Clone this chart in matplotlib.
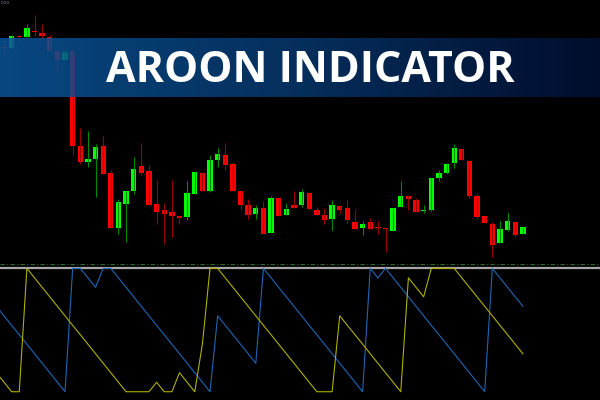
import numpy as np
import matplotlib
matplotlib.use("Agg")
import matplotlib.pyplot as plt
from matplotlib.colors import LinearSegmentedColormap

# candle data (open, high, low, close), one entry per bar
opens = [253, 252, 264.5, 263.3, 269, 267, 262.7, 249, 240, 249,
         154, 138.3, 141.3, 154, 127, 71.7, 96.3, 109, 134, 128.7,
         96, 90, 88, 84.3, 83.3, 106.3, 127.3, 108.7, 140, 145.3,
         136, 109, 95, 86, 92.3, 67.3, 102, 85.3, 95, 95,
         107, 90, 85, 81, 94, 92, 78, 72.3, 78, 73.3,
         72.3, 69.3, 93.3, 104, 100, 88.7, 89.7, 122.3, 126.7, 136.7,
         151, 139.3, 104, 84, 76, 57, 69.7, 78, 66]
highs = [258, 265, 265, 276, 285.3, 275.7, 265.3, 249, 252, 249,
         172, 169.3, 156, 164, 130, 101.3, 109, 143, 157.3, 135,
         119.7, 97, 120, 84.3, 119, 128, 128.3, 145, 152, 157.3,
         138.3, 109, 101, 95, 99, 104, 102, 97, 109.3, 110.7,
         107, 92.7, 92.3, 100, 94, 100, 91.3, 79, 82.3, 79,
         72.3, 92, 119, 104, 102.3, 95, 122, 130, 137, 156,
         151, 139.3, 106, 84, 78.3, 79, 87, 78, 73]
lows = [245, 251, 257, 263, 264.3, 262.3, 249, 229, 240, 145,
        136, 133.3, 103, 126, 72, 66.3, 58.3, 106.3, 125, 95,
        76.3, 56.3, 62.7, 75.7, 80, 106, 109, 108, 133, 130,
        109, 90, 81, 81, 66, 67, 84, 85, 92, 92.7,
        90, 85, 76, 70, 87.3, 77.3, 71, 65, 71, 66.3,
        48.3, 69, 93, 90, 88, 86.7, 89, 119, 126, 132.3,
        140, 102.3, 80.7, 77, 42.7, 57, 69.5, 63.3, 66]
closes = [252.5, 264, 263, 271.7, 268, 264.3, 249.3, 240, 247.7, 154.3,
          138.3, 141, 153.3, 126.3, 72.3, 98, 109, 131, 127, 95,
          87.7, 85.7, 84, 82.3, 107, 128, 109, 140, 146.3, 135,
          109, 95.3, 85, 92, 66.3, 101.7, 84.3, 90.7, 92.3, 108.3,
          90.7, 85, 80, 95, 90, 80, 71.3, 76, 71.3, 72.3,
          71, 92, 104, 100.7, 88, 90.3, 121.7, 127, 136.3, 152,
          140, 104, 83.3, 77.3, 55, 70.7, 78.7, 65, 72.7]

# Aroon (13) values, starting one bar before the first visible candle
aroon_up = [15.4, 7.7, 0, 0, 100, 92.3, 84.6, 76.9, 69.2, 61.5, 53.8,
            46.2, 38.5, 30.8, 23.1, 15.4, 7.7, 0, 0, 0, 0,
            7.7, 0, 0, 15.4, 7.7, 0, 38.5, 100, 100, 92.3,
            84.6, 76.9, 69.2, 61.5, 53.8, 46.2, 38.5, 30.8, 23.1, 15.4,
            7.7, 0, 0, 0, 61.5, 53.8, 46.2, 38.5, 30.8, 23.1,
            15.4, 7.7, 0, 92.3, 84.6, 76.9, 100, 100, 100, 100,
            92.3, 84.6, 76.9, 69.2, 61.5, 53.8, 46.2, 38.5, 30.8]
aroon_down = [69.2, 61.5, 53.8, 46.2, 38.5, 30.8, 23.1, 15.4, 7.7, 0, 100,
              100, 92.3, 84.6, 100, 100, 92.3, 84.6, 76.9, 69.2, 61.5,
              53.8, 46.2, 38.5, 30.8, 23.1, 15.4, 7.7, 0, 61.5, 53.8,
              46.2, 38.5, 30.8, 23.1, 100, 92.3, 84.6, 76.9, 69.2, 61.5,
              53.8, 46.2, 38.5, 30.8, 23.1, 15.4, 7.7, 0, 100, 92.3,
              100, 92.3, 84.6, 76.9, 69.2, 61.5, 53.8, 46.2, 38.5, 30.8,
              23.1, 15.4, 7.7, 0, 100, 92.3, 84.6, 76.9, 69.2]

title = "AROON INDICATOR"

o = np.array(opens); h = np.array(highs); l = np.array(lows); c = np.array(closes)
idx = np.arange(len(o))
up = c >= o

fig = plt.figure(figsize=(6, 4), dpi=100, facecolor='black')
xlim = (-0.524, 78.11)

# price window
ax = fig.add_axes([0, 0.34, 1, 0.66])
ax.set_facecolor('black')
ax.vlines(idx[up], l[up], h[up], color='#008800', lw=0.8)
ax.vlines(idx[~up], l[~up], h[~up], color='#990000', lw=0.8)
body = np.maximum(np.abs(c - o), 0.9)
ax.bar(idx[up], body[up], bottom=np.minimum(o, c)[up], width=0.7,
       color='#00ff00', linewidth=0)
ax.bar(idx[~up], body[~up], bottom=np.minimum(o, c)[~up], width=0.7,
       color='#ff0000', linewidth=0)
ax.set_xlim(xlim)
ax.set_ylim(36, 300)
ax.axis('off')

# indicator window
ax2 = fig.add_axes([0, 0, 1, 0.34])
ax2.set_facecolor('black')
ia = np.arange(-1, len(aroon_up) - 1)
ax2.axhline(103.2, color='#2a6a2a', lw=0.8, linestyle=(0, (4, 2, 1, 2)))
ax2.axhline(100.3, color='#a8a8a8', lw=1.6)
ax2.plot(ia, aroon_down, color='#1f66b3', lw=0.8)
ax2.plot(ia, aroon_up, color='#b0b000', lw=0.8)
ax2.set_xlim(xlim)
ax2.set_ylim(-6.7, 103.5)
ax2.axis('off')

# banner
axb = fig.add_axes([0, 1 - 96.7 / 400, 1, 59 / 400])
cmap = LinearSegmentedColormap.from_list('banner', ['#0a5599', '#06386e', '#021035'])
grad = np.linspace(0, 1, 256).reshape(1, -1)
axb.imshow(grad, aspect='auto', cmap=cmap, alpha=0.84, extent=(0, 1, 0, 1))
axb.axis('off')
fig.text(0.518, 1 - 82.3 / 400, title, color='white', fontsize=31,
         fontweight='bold', family='Open Sans', ha='center', va='baseline')

fig.text(0.001, 0.997, "0.20", color='#8090a0', fontsize=3, ha='left', va='top')

fig.savefig('out.png', dpi=100, facecolor='black')
